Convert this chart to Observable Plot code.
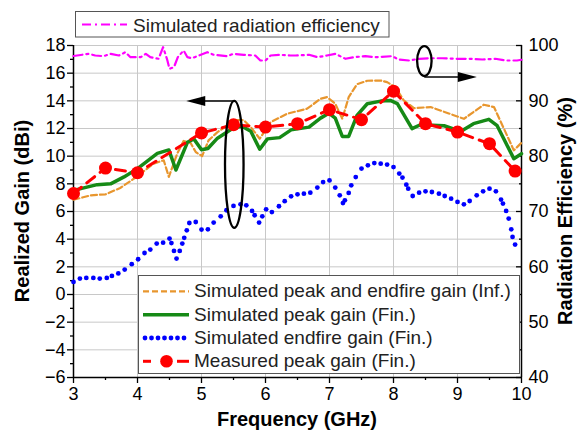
<!DOCTYPE html>
<html><head><meta charset="utf-8">
<script src="https://cdn.jsdelivr.net/npm/d3@7"></script>
<script src="https://cdn.jsdelivr.net/npm/@observablehq/plot@0.6"></script>
<style>
body{margin:0;background:#fff;}
#chart{position:relative;width:577px;height:430px;}
svg{font-family:"Liberation Sans",Arial,sans-serif;}
</style></head><body><div id="chart"></div>
<script>
// ---- data ----
const effFreq  = [3.0,3.24,3.34,3.47,3.58,3.71,3.81,3.89,4.05,4.13,4.2,4.33,4.4,4.46,4.5,4.57,4.63,4.72,4.78,4.85,4.96,5.09,5.19,5.4,5.5,5.66,5.84,5.92,6.0,6.08,6.23,6.39,6.47,6.68,6.81,6.96,7.09,7.25,7.38,7.56,7.72,7.98,8.08,8.24,8.4,8.55,8.76,8.97,9.18,9.39,9.59,9.75,9.93,10.0];
const effValue = [98.1,98.5,98.19,98.07,98.5,98.19,98.79,97.89,97.89,98.5,97.89,97.6,99.69,97.6,95.79,96.08,97.89,99.1,97.89,97.7,98.19,98.79,98.32,98.07,98.5,98.32,98.19,97.29,97.29,98.19,98.32,98.19,98.19,98.32,97.89,98.19,98.5,97.6,97.89,98.07,97.89,98.07,97.47,97.29,97.6,97.7,97.7,97.6,97.6,97.47,97.6,97.29,97.29,97.42];

const infFreq = [3.0,3.27,3.5,3.73,4.0,4.25,4.41,4.49,4.62,4.72,4.83,4.91,5.01,5.11,5.25,5.43,5.55,5.66,5.77,5.91,6.08,6.34,6.65,6.86,6.96,7.09,7.2,7.3,7.43,7.59,7.8,7.9,8.03,8.16,8.32,8.58,9.1,9.41,9.57,9.75,9.88,10.0];
const infGain = [6.85,7.17,7.24,7.7,8.55,9.46,9.7,8.5,10.18,11.1,10.95,10.3,10.0,11.14,11.74,12.3,12.6,12.6,12.1,11.26,12.46,13.07,13.43,14.15,14.27,13.79,12.7,14.27,15.2,15.45,15.47,15.35,14.99,14.03,13.47,13.55,12.7,13.72,13.55,11.74,10.42,10.97];

const peakFreq = [3.0,3.37,3.58,3.79,4.0,4.31,4.49,4.6,4.78,4.88,5.0,5.1,5.25,5.4,5.5,5.63,5.77,5.91,6.03,6.22,6.4,6.68,6.86,6.99,7.09,7.2,7.3,7.43,7.59,7.8,7.95,8.06,8.29,8.42,8.79,9.05,9.25,9.49,9.62,9.88,10.0];
const peakGain = [7.53,7.94,8.0,8.5,9.1,10.2,10.45,9.0,11.0,11.25,10.47,10.55,11.3,11.75,12.05,12.16,11.8,10.5,11.25,11.34,11.9,12.1,12.75,13.11,12.75,11.43,11.43,12.95,13.79,13.98,14.03,13.8,11.99,12.27,12.2,11.79,12.35,12.66,12.2,9.82,10.18];

const endFreq = [3.0,3.1,3.2,3.31,3.41,3.52,3.6,3.7,3.8,3.91,4.01,4.11,4.2,4.3,4.4,4.5,4.53,4.57,4.61,4.66,4.7,4.73,4.77,4.81,4.91,5.0,5.1,5.19,5.3,5.39,5.5,5.61,5.7,5.79,5.83,5.9,5.95,6.01,6.1,6.21,6.3,6.4,6.5,6.6,6.7,6.81,6.9,7.0,7.09,7.16,7.21,7.24,7.3,7.34,7.41,7.5,7.6,7.7,7.8,7.9,8.0,8.09,8.14,8.2,8.23,8.3,8.4,8.5,8.6,8.71,8.8,8.9,9.0,9.1,9.19,9.3,9.4,9.5,9.6,9.68,9.71,9.76,9.8,9.84,9.86,9.9];
const endGain = [0.91,1.15,1.2,1.2,1.15,1.2,1.34,1.52,1.8,2.19,2.55,3.0,3.25,3.68,3.75,4.04,3.72,3.15,2.6,3.15,3.68,4.1,4.64,5.17,5.24,4.69,4.71,5.2,5.65,6.09,6.4,6.52,6.45,6.04,5.73,5.2,5.65,6.16,5.96,6.38,6.75,7.1,7.24,7.29,7.36,7.73,8.13,8.25,7.73,7.17,6.61,6.81,7.34,7.89,8.49,9.1,9.34,9.5,9.46,9.39,9.21,8.74,8.45,7.94,7.65,7.12,7.36,7.46,7.41,7.29,7.12,6.93,6.69,6.52,6.76,7.17,7.46,7.65,7.46,6.86,6.57,6.04,5.49,4.71,4.16,3.61];

const measFreq = [3.0,3.5,4.0,5.0,5.5,6.0,6.5,7.0,7.5,8.0,8.5,9.0,9.5,9.9];
const measGain = [7.3,9.14,8.8,11.68,12.27,12.1,12.35,13.36,12.64,14.7,12.35,11.74,10.9,8.92];

// ticks
const xTicks = [3,4,5,6,7,8,9,10];
const xMinor = [3.5,4.5,5.5,6.5,7.5,8.5,9.5];
const yTicks = [-6,-4,-2,0,2,4,6,8,10,12,14,16,18];
const yMinor = [-5,-3,-1,1,3,5,7,9,11,13,15,17];
const effTicks = [40,50,60,70,80,90,100];
const effMinor = [45,55,65,75,85,95];

// annotations (data units)
const gainEllipse = {x: 5.52, y: 9.37, hx: 0.145, hy: 4.585};
const gainArrow = {x1: 5.52, x2: 4.77, y: 13.96};
const effEllipse = {x: 8.49, eff: 97.1, hx: 0.113, heff: 2.7};
const effArrow = {x1: 8.49, x2: 9.31, eff: 94.2};

const seriesNames = ["Simulated peak and endfire gain (Inf.)","Simulated peak gain (Fin.)","Simulated endfire gain (Fin.)","Measured peak gain (Fin.)"];
const effName = "Simulated radiation efficiency";

// ---- helpers ----
const toGain = e => -6 + (e - 40) * 0.4;
const fromGain = g => 40 + (g + 6) / 0.4;
const zip = (xs, ys) => xs.map((x, i) => ({x, y: ys[i]}));
const effData = effFreq.map((f, i) => ({x: f, y: toGain(effValue[i])}));
const infData = zip(infFreq, infGain);
const peakData = zip(peakFreq, peakGain);
const endData = zip(endFreq, endGain);
const measData = zip(measFreq, measGain);

const C = {orange: "#E8962E", green: "#168A16", blue: "#0000FF", red: "#FF0000", magenta: "#FF00FF", grid: "#c8c8c8"};

const plot = Plot.plot({
  width: 577, height: 430,
  marginLeft: 73, marginRight: 56, marginTop: 45, marginBottom: 53,
  style: {fontFamily: "Liberation Sans, Arial, sans-serif", fontSize: "18px", color: "#000", background: "#fff", overflow: "visible"},
  x: {domain: [3, 10]},
  y: {domain: [-6, 18]},
  marks: [
    Plot.gridX(xTicks.slice(1, -1), {stroke: C.grid, strokeOpacity: 1, strokeWidth: 1}),
    Plot.gridY(yTicks.slice(1), {stroke: C.grid, strokeOpacity: 1, strokeWidth: 1}),
    Plot.axisX(xTicks, {tickSize: 6, tickPadding: 4, fontSize: 18, label: null, strokeWidth: 1.3}),
    Plot.axisX(xMinor, {tickSize: 3, tickFormat: () => "", label: null, strokeWidth: 1.3}),
    Plot.axisY(yTicks, {anchor: "left", tickSize: 6, tickPadding: 2, fontSize: 18, label: null, strokeWidth: 1.3}),
    Plot.axisY(yMinor, {anchor: "left", tickSize: 3, tickFormat: () => "", label: null, strokeWidth: 1.3}),
    Plot.axisY(effTicks.map(toGain), {anchor: "right", tickSize: 0, tickPadding: 7, fontSize: 18, label: null, tickFormat: g => Math.round(fromGain(g))}),
    Plot.axisY(effTicks.map(toGain), {anchor: "right", tickSize: -6, tickFormat: () => "", label: null, strokeWidth: 1.3}),
    Plot.axisY(effMinor.map(toGain), {anchor: "right", tickSize: -3, tickFormat: () => "", label: null, strokeWidth: 1.3}),
    Plot.ruleX([3, 10], {stroke: "#000", strokeWidth: 1.5}),
    Plot.ruleY([-6], {stroke: "#000", strokeWidth: 1.5}),
    Plot.line(effData, {x: "x", y: "y", stroke: C.magenta, strokeWidth: 2.2, strokeDasharray: "9,4,2,4"}),
    Plot.line(infData, {x: "x", y: "y", stroke: C.orange, strokeWidth: 2.2, strokeDasharray: "6,3"}),
    Plot.line(peakData, {x: "x", y: "y", stroke: C.green, strokeWidth: 3.5}),
    Plot.dot(endData, {x: "x", y: "y", r: 2.4, fill: C.blue, stroke: "none"}),
    Plot.line(measData, {x: "x", y: "y", stroke: C.red, strokeWidth: 3, strokeDasharray: "10,7"}),
    Plot.dot(measData, {x: "x", y: "y", r: 6.5, fill: C.red, stroke: "none"})
  ]
});
document.getElementById("chart").appendChild(plot);

const svg = d3.select(plot);
const X = plot.scale("x").apply, Y = plot.scale("y").apply;
const font = "Liberation Sans, Arial, sans-serif";

// annotations
const ann = svg.append("g").attr("fill", "none").attr("stroke", "#000");
function ellipse(cx, cy, rx, ry) {
  ann.append("ellipse").attr("cx", cx).attr("cy", cy).attr("rx", rx).attr("ry", ry).attr("stroke-width", 2.3);
}
function arrow(x1, x2, y) {
  const dir = Math.sign(x2 - x1);
  ann.append("line").attr("x1", x1).attr("x2", x2 - dir * 14).attr("y1", y).attr("y2", y).attr("stroke-width", 1.5);
  ann.append("path").attr("d", `M${x2},${y}L${x2 - dir * 19},${y - 5}L${x2 - dir * 19},${y + 5}Z`).attr("fill", "#000").attr("stroke", "none");
}
{
  const cx = X(gainEllipse.x), cy = Y(gainEllipse.y);
  ellipse(cx, cy, X(gainEllipse.x + gainEllipse.hx) - cx, cy - Y(gainEllipse.y + gainEllipse.hy));
  arrow(X(gainArrow.x1), X(gainArrow.x2), Y(gainArrow.y));
  const ex = X(effEllipse.x), ey = Y(toGain(effEllipse.eff));
  ellipse(ex, ey, X(effEllipse.x + effEllipse.hx) - ex, ey - Y(toGain(effEllipse.eff + effEllipse.heff)));
  arrow(X(effArrow.x1), X(effArrow.x2), Y(toGain(effArrow.eff)));
}

// axis titles
const title = (t, x, y, rot) => svg.append("text")
  .attr("transform", `translate(${x},${y}) rotate(${rot})`)
  .attr("text-anchor", "middle").attr("font-family", font)
  .attr("font-weight", "bold").attr("font-size", 20).attr("fill", "#000").text(t);
title("Realized Gain (dBi)", 29, 211, -90);
title("Radiation Efficiency (%)", 572, 211, -90);
title("Frequency (GHz)", 297, 426, 0);

// top legend
const lg1 = svg.append("g");
lg1.append("rect").attr("x", 75.5).attr("y", 11.5).attr("width", 313.5).attr("height", 25.5).attr("fill", "#fff").attr("stroke", "#555").attr("stroke-width", 1);
lg1.append("line").attr("x1", 82).attr("x2", 127).attr("y1", 24.5).attr("y2", 24.5).attr("stroke", C.magenta).attr("stroke-width", 2.2).attr("stroke-dasharray", "9,4,2,4");
lg1.append("text").attr("x", 133).attr("y", 31.5).attr("text-anchor", "start").attr("font-family", font).attr("font-size", 19).attr("fill", "#222").text(effName);

// bottom legend
const lg2 = svg.append("g");
lg2.append("rect").attr("x", 138.5).attr("y", 275.5).attr("width", 381).attr("height", 98).attr("fill", "#fff").attr("stroke", "#555").attr("stroke-width", 1);
const rows = [297.3, 320.7, 344, 367.3];
const styles = [
  {stroke: C.orange, w: 2.2, dash: "6,3"},
  {stroke: C.green, w: 3.5, dash: null},
  {stroke: C.blue, w: 0, dash: null, dots: true},
  {stroke: C.red, w: 3, dash: null, meas: true}
];
seriesNames.forEach((name, i) => {
  const ly = rows[i] - 6;
  const s = styles[i];
  if (s.dots) {
    d3.range(7).forEach(k => lg2.append("circle").attr("cx", 145 + k * 6.5).attr("cy", ly).attr("r", 2.4).attr("fill", C.blue));
  } else if (s.meas) {
    lg2.append("line").attr("x1", 143).attr("x2", 151).attr("y1", ly).attr("y2", ly).attr("stroke", s.stroke).attr("stroke-width", s.w);
    lg2.append("line").attr("x1", 177).attr("x2", 189).attr("y1", ly).attr("y2", ly).attr("stroke", s.stroke).attr("stroke-width", s.w);
    lg2.append("circle").attr("cx", 166.5).attr("cy", ly).attr("r", 6.3).attr("fill", s.stroke);
  } else {
    const l = lg2.append("line").attr("x1", 143).attr("x2", 189).attr("y1", ly).attr("y2", ly).attr("stroke", s.stroke).attr("stroke-width", s.w);
    if (s.dash) l.attr("stroke-dasharray", s.dash);
  }
  lg2.append("text").attr("x", 194).attr("y", rows[i]).attr("text-anchor", "start").attr("font-family", font).attr("font-size", 19).attr("fill", "#222").text(name);
});
</script></body></html>
